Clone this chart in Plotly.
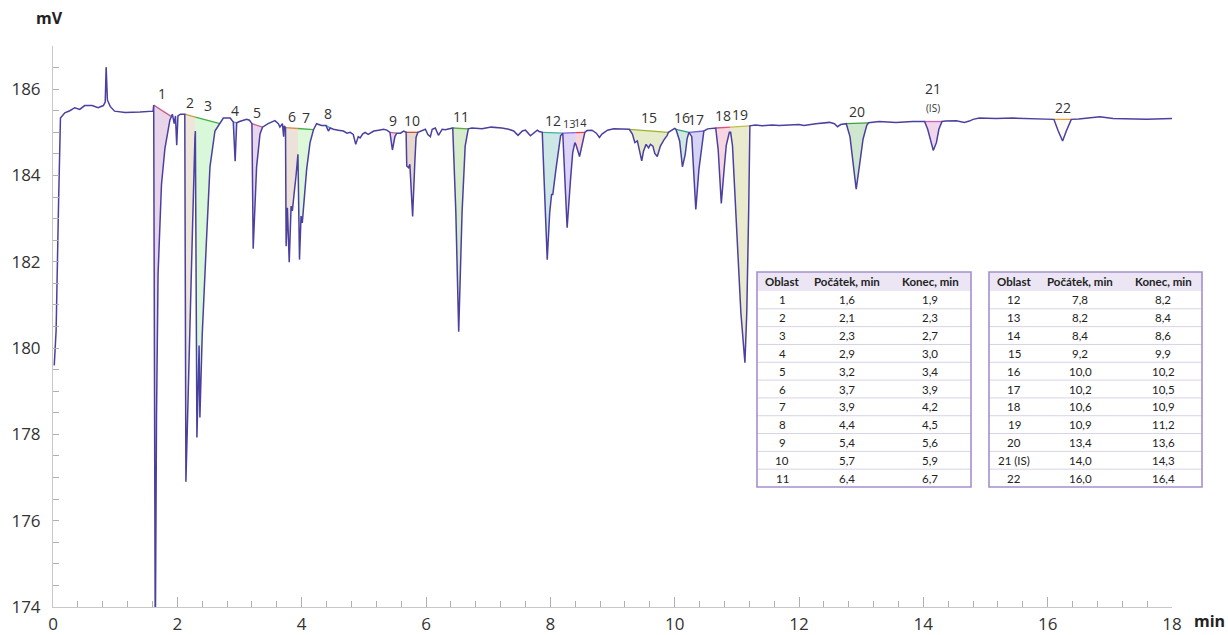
import numpy as np
import plotly.graph_objects as go

# ---------------- chromatogram trace (time in min, signal in mV) ----------------
t = [0.02, 0.05, 0.09, 0.12, 0.19, 0.27, 0.35, 0.43, 0.51, 0.63, 0.725, 0.81, 0.84, 0.855, 0.875,
     0.92, 0.99, 1.16, 1.40, 1.61, 1.62, 1.645, 1.665, 1.69, 1.745, 1.80, 1.88, 1.90, 1.92, 1.95,
     1.97, 1.99, 2.01, 2.05, 2.10, 2.12, 2.138, 2.175, 2.24, 2.283, 2.29, 2.315, 2.35, 2.363, 2.39,
     2.40, 2.47, 2.525, 2.605, 2.686, 2.74, 2.85, 2.90, 2.93, 2.955, 3.00, 3.115, 3.16, 3.20, 3.22,
     3.275, 3.33, 3.37, 3.46, 3.57, 3.625, 3.65, 3.69, 3.71, 3.72, 3.74, 3.75, 3.77, 3.80, 3.83,
     3.85, 3.867, 3.88, 3.91, 3.94, 3.965, 3.99, 4.01, 4.03, 4.08, 4.135, 4.19, 4.24, 4.32, 4.39,
     4.43, 4.46, 4.51, 4.59, 4.67, 4.73, 4.78, 4.83, 4.87, 4.91, 4.94, 4.98, 5.02, 5.07, 5.16,
     5.24, 5.32, 5.37, 5.42, 5.46, 5.50, 5.53, 5.59, 5.64, 5.68, 5.69, 5.72, 5.74, 5.785, 5.82,
     5.84, 5.87, 5.93, 5.99, 6.03, 6.07, 6.10, 6.15, 6.20, 6.26, 6.31, 6.39, 6.43, 6.48, 6.526,
     6.58, 6.63, 6.68, 6.74, 6.90, 7.05, 7.22, 7.33, 7.41, 7.48, 7.55, 7.60, 7.68, 7.73, 7.79,
     7.82, 7.87, 7.95, 7.99, 8.02, 8.04, 8.09, 8.165, 8.20, 8.27, 8.325, 8.36, 8.395, 8.41, 8.47,
     8.51, 8.555, 8.59, 8.67, 8.74, 8.79, 8.83, 8.92, 9.02, 9.16, 9.24, 9.27, 9.32, 9.36, 9.40,
     9.44, 9.47, 9.50, 9.54, 9.58, 9.61, 9.65, 9.68, 9.72, 9.77, 9.83, 9.88, 9.90, 9.96, 10.00,
     10.02, 10.08, 10.125, 10.17, 10.20, 10.23, 10.275, 10.34, 10.39, 10.44, 10.47, 10.53, 10.635,
     10.66, 10.70, 10.75, 10.80, 10.83, 10.88, 10.90, 10.93, 10.985, 11.065, 11.13, 11.16, 11.19,
     11.21, 11.30, 11.41, 11.57, 11.68, 12.00, 12.08, 12.27, 12.49, 12.57, 12.62, 12.67, 12.76,
     12.82, 12.87, 12.92, 12.97, 13.03, 13.09, 13.12, 13.29, 13.56, 13.83, 14.02, 14.07, 14.13,
     14.16, 14.21, 14.25, 14.30, 14.36, 14.53, 14.66, 14.74, 14.80, 14.90, 15.17, 15.44, 15.71,
     15.98, 16.10, 16.17, 16.24, 16.30, 16.38, 16.50, 16.84, 17.05, 17.59, 18.00]
mv = [179.6, 180.4, 183.4, 185.33, 185.45, 185.5, 185.57, 185.53, 185.62, 185.62, 185.57, 185.62, 185.7, 186.51, 185.75,
      185.6, 185.49, 185.46, 185.47, 185.49, 185.63, 173.0, 178.4, 181.71, 183.79, 184.62, 185.28, 185.37, 185.42, 185.2,
      185.38, 184.70, 185.38, 185.42, 185.42, 185.42, 176.9, 179.2, 182.54, 184.87, 185.03, 177.93, 180.06, 178.39, 180.3,
      180.3, 182.54, 184.2, 185.03, 185.2, 185.33, 185.33, 185.24, 184.33, 185.22, 185.25, 185.3, 185.28, 185.2, 182.3,
      184.2, 184.96, 185.12, 185.2, 185.27, 185.2, 185.12, 185.2, 184.9, 185.15, 185.11, 182.36, 183.25, 181.99, 183.29,
      183.18, 183.49, 183.6, 184.0, 184.49, 182.05, 183.06, 182.9, 183.3, 184.14, 184.76, 185.06, 185.2, 185.16, 185.16,
      185.03, 185.1, 185.07, 185.05, 185.03, 184.98, 185.0, 184.95, 184.72, 184.9, 184.87, 184.96, 185.0, 184.95, 185.03,
      185.05, 185.07, 185.05, 185.0, 184.59, 184.9, 184.98, 184.98, 185.03, 185.0, 184.22, 184.18, 184.26, 183.05, 184.3,
      184.88, 185.0, 185.03, 185.07, 184.95, 184.9, 185.07, 185.1, 184.93, 185.07, 185.06, 185.08, 185.1, 183.14, 180.38,
      183.14, 184.68, 185.08, 185.1, 185.08, 185.12, 185.1, 185.07, 185.03, 184.93, 185.03, 185.05, 184.92, 184.98, 185.05,
      185.02, 185.0, 182.05, 183.14, 183.56, 183.56, 184.14, 184.92, 184.98, 182.79, 183.91, 184.53, 184.76, 184.72, 184.44,
      184.72, 185.0, 185.04, 185.05, 184.98, 184.88, 184.96, 185.05, 185.08, 185.08, 185.07, 185.07, 184.96, 184.76, 184.8,
      184.57, 184.34, 184.57, 184.72, 184.64, 184.72, 184.68, 184.51, 184.44, 184.68, 184.83, 184.93, 185.0, 185.05, 185.09,
      185.07, 184.8, 184.2, 184.49, 184.85, 185.0, 184.9, 183.21, 184.14, 184.76, 185.03, 185.08, 185.1,
      185.1, 184.6, 183.35, 184.22, 184.7, 185.0, 185.0, 184.69, 183.14, 180.82, 179.66, 180.82, 183.14,
      185.15, 185.17, 185.15, 185.17, 185.16, 185.18, 185.16, 185.2, 185.23, 185.2, 185.13, 185.18, 185.2,
      184.9, 184.3, 183.68, 184.2, 184.84, 185.16, 185.22, 185.25, 185.23, 185.25, 185.25, 185.07, 184.76,
      184.58, 184.76, 185.07, 185.25, 185.26, 185.27, 185.23, 185.26, 185.3, 185.33, 185.32, 185.33, 185.32,
      185.32, 185.3, 185.03, 184.8, 185.03, 185.3, 185.31, 185.36, 185.32, 185.3, 185.32]

# ---------------- integrated areas (as drawn in the picture) ----------------
area_label = ["1", "2", "3", "4", "5", "6", "7", "8", "9", "10", "11",
              "12", "13", "14", "15", "16", "17", "18", "19", "20", "21", "22"]
area_start = [1.62, 2.12, 2.29, 2.90, 3.20, 3.74, 3.94, 4.39, 5.42, 5.68, 6.43,
              7.87, 8.20, 8.41, 9.27, 10.02, 10.23, 10.66, 10.90, 12.76, 14.02, 16.10]
area_end = [1.90, 2.29, 2.686, 2.955, 3.37, 3.94, 4.19, 4.46, 5.53, 5.87, 6.68,
            8.20, 8.41, 8.555, 9.90, 10.23, 10.47, 10.90, 11.21, 13.12, 14.30, 16.38]
area_group = [1, 2, 2, 3, 4, 5, 5, 6, 7, 8, 9, 10, 11, 11, 12, 13, 14, 15, 15, 16, 17, 18]
area_edge = ["#c8608a", "#c8a040", "#44b044", "#6a8fd0", "#c8608a", "#e08a40", "#44b044",
             "#40a0c0", "#c060a0", "#c05030", "#5aaa3a", "#40b0a0", "#8060e0", "#e04050",
             "#a0b030", "#30a080", "#7060d0", "#e05080", "#c0c040", "#40a040", "#d060b0", "#e0a040"]
area_fill = ["rgba(200,150,200,0.40)", "rgba(215,200,170,0.45)", "rgba(160,235,160,0.40)",
             "rgba(160,185,235,0.45)", "rgba(200,150,210,0.40)", "rgba(215,190,170,0.45)",
             "rgba(170,235,160,0.40)", "rgba(150,210,230,0.45)", "rgba(210,160,210,0.45)",
             "rgba(205,170,150,0.45)", "rgba(175,215,155,0.50)", "rgba(155,205,205,0.50)",
             "rgba(190,170,240,0.50)", "rgba(240,170,180,0.50)", "rgba(210,220,160,0.55)",
             "rgba(170,215,200,0.55)", "rgba(180,175,235,0.55)", "rgba(240,180,200,0.55)",
             "rgba(220,220,175,0.60)", "rgba(175,215,175,0.60)", "rgba(230,185,225,0.60)",
             "rgba(250,235,215,0.30)"]
small_labels = ["13", "14"]

# ---------------- tables ----------------
tbl_header = ["Oblast", "Počátek, min", "Konec, min"]
tbl1_oblast = ["1", "2", "3", "4", "5", "6", "7", "8", "9", "10", "11"]
tbl1_start = ["1,6", "2,1", "2,3", "2,9", "3,2", "3,7", "3,9", "4,4", "5,4", "5,7", "6,4"]
tbl1_end = ["1,9", "2,3", "2,7", "3,0", "3,4", "3,9", "4,2", "4,5", "5,6", "5,9", "6,7"]
tbl2_oblast = ["12", "13", "14", "15", "16", "17", "18", "19", "20", "21 (IS)", "22"]
tbl2_start = ["7,8", "8,2", "8,4", "9,2", "10,0", "10,2", "10,6", "10,9", "13,4", "14,0", "16,0"]
tbl2_end = ["8,2", "8,4", "8,6", "9,9", "10,2", "10,5", "10,9", "11,2", "13,6", "14,3", "16,4"]

# ---------------- figure ----------------
W, H = 1228, 635
ML, MR, MT, MB = 53, 56, 46, 28
PW, PH = W - ML - MR, H - MT - MB

tt = np.array(t)
vv = np.array(mv)


def tr(x):
    return float(np.interp(x, tt, vv))


fig = go.Figure()

groups = {}
for s, e, g in zip(area_start, area_end, area_group):
    gs, ge = groups.get(g, (s, e))
    groups[g] = (min(gs, s), max(ge, e))

annotations = []
for lab, s, e, g, ec, fc in zip(area_label, area_start, area_end, area_group, area_edge, area_fill):
    gs, ge = groups[g]
    ys0, ye0 = tr(gs), tr(ge)

    def L(x):
        return ys0 + (ye0 - ys0) * (x - gs) / (ge - gs)

    inside = (tt > s) & (tt < e)
    px = [s, e, e] + list(tt[inside][::-1]) + [s, s]
    py = [L(s), L(e), tr(e)] + list(vv[inside][::-1]) + [tr(s), L(s)]
    fig.add_trace(go.Scatter(x=px, y=py, mode="lines", fill="toself", fillcolor=fc,
                             line=dict(width=0), hoverinfo="skip", showlegend=False))
    fig.add_trace(go.Scatter(x=[s, e], y=[L(s), L(e)], mode="lines",
                             line=dict(color=ec, width=1.3), hoverinfo="skip", showlegend=False))
    size = 11 if lab in small_labels else 14
    text = lab
    yshift = 0
    if lab == "21":
        text = "21<br><span style='font-size:10px'>(IS)</span>"
        yshift = 5
    annotations.append(dict(x=(s + e) / 2, y=max(L(s), L(e)), xref="x", yref="y", text=text,
                            showarrow=False, yanchor="bottom", yshift=yshift,
                            font=dict(family="Open Sans", size=size, color="#333333")))

fig.add_trace(go.Scatter(x=t, y=mv, mode="lines", line=dict(color="#4a40a0", width=1.5),
                         hoverinfo="skip", showlegend=False))


def PX(px):
    return (px - ML) / PW


def PY(py):
    return 1 - (py - MT) / PH


shapes = []


def add_table(left, right, col_centers, col_a, col_b, col_c):
    top, head_bot, bottom = 272.0, 291.0, 487.0
    n = len(col_a)
    rh = (bottom - head_bot) / n
    shapes.append(dict(type="rect", xref="paper", yref="paper", x0=PX(left), x1=PX(right),
                       y0=PY(head_bot), y1=PY(top), fillcolor="#ece6f4", line=dict(width=0), layer="above"))
    for i in range(1, n):
        yy = head_bot + i * rh
        shapes.append(dict(type="line", xref="paper", yref="paper", x0=PX(left), x1=PX(right),
                           y0=PY(yy), y1=PY(yy), line=dict(color="#d9d2e6", width=1), layer="above"))
    shapes.append(dict(type="rect", xref="paper", yref="paper", x0=PX(left), x1=PX(right),
                       y0=PY(bottom), y1=PY(top), line=dict(color="#a58fcf", width=1.6), layer="above"))
    for cx, h in zip(col_centers, tbl_header):
        annotations.append(dict(x=PX(cx), y=PY((top + head_bot) / 2), xref="paper", yref="paper",
                                text="<b>" + h + "</b>", showarrow=False, xanchor="center", yanchor="middle",
                                font=dict(family="Lato", size=11.5, color="#222222")))
    for i in range(n):
        yc = head_bot + (i + 0.5) * rh
        for cx, col in zip(col_centers, (col_a, col_b, col_c)):
            annotations.append(dict(x=PX(cx), y=PY(yc), xref="paper", yref="paper", text=col[i],
                                    showarrow=False, xanchor="center", yanchor="middle",
                                    font=dict(family="Lato", size=11.5, color="#222222")))


# white background behind tables so the trace passes under them
for l_, r_ in ((757, 971), (989, 1202)):
    shapes.append(dict(type="rect", xref="paper", yref="paper", x0=PX(l_), x1=PX(r_),
                       y0=PY(487), y1=PY(272), fillcolor="white", line=dict(width=0), layer="above"))

add_table(757, 971, (782, 847, 930), tbl1_oblast, tbl1_start, tbl1_end)
add_table(989, 1202, (1014, 1080, 1163), tbl2_oblast, tbl2_start, tbl2_end)

annotations.append(dict(x=PX(49), y=PY(18), xref="paper", yref="paper", text="<b>mV</b>",
                        showarrow=False, xanchor="center", yanchor="middle",
                        font=dict(family="Open Sans", size=16, color="#222222")))
annotations.append(dict(x=PX(1209), y=PY(621), xref="paper", yref="paper", text="<b>min</b>",
                        showarrow=False, xanchor="center", yanchor="middle",
                        font=dict(family="Open Sans", size=16, color="#222222")))

fig.update_layout(
    width=W, height=H,
    margin=dict(l=ML, r=MR, t=MT, b=MB, autoexpand=False),
    paper_bgcolor="white", plot_bgcolor="white",
    showlegend=False,
    annotations=annotations,
    shapes=shapes,
    xaxis=dict(range=[0, 18], dtick=2, tick0=0, showgrid=False, zeroline=False,
               showline=True, linecolor="#c8c8c8", linewidth=1, automargin=False,
               ticks="inside", ticklen=10, tickcolor="#b0b0b0",
               minor=dict(dtick=0.4, ticks="inside", ticklen=6, tickcolor="#b0b0b0"),
               tickfont=dict(family="Open Sans", size=17, color="#333333"),
               ticklabelstandoff=2),
    yaxis=dict(range=[174, 187], dtick=2, tick0=174, showgrid=False, zeroline=False,
               showline=True, linecolor="#c8c8c8", linewidth=1, automargin=False,
               ticks="inside", ticklen=6, tickcolor="#b0b0b0",
               minor=dict(dtick=0.5, ticks="inside", ticklen=6, tickcolor="#b0b0b0"),
               tickfont=dict(family="Open Sans", size=17, color="#333333"),
               ticklabelstandoff=8),
)

fig.write_html("out.html", config={"displayModeBar": False},
               post_script="document.body.style.margin='0';document.body.style.overflow='hidden';")
